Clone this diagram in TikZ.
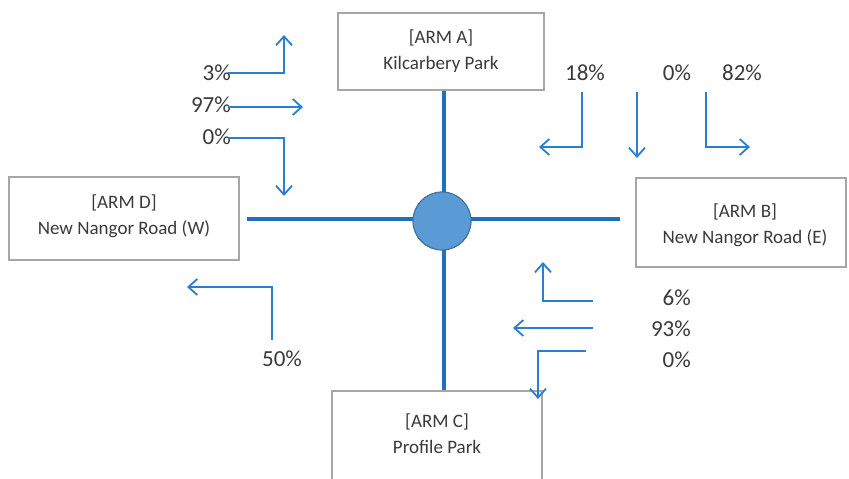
\documentclass[tikz,border=0pt]{standalone}
\usepackage{fontspec}
\setmainfont{Carlito}
\usetikzlibrary{arrows.meta}
\definecolor{roadblue}{HTML}{1F70C1}
\definecolor{flowblue}{HTML}{2A7FD4}
\definecolor{hubfill}{HTML}{5B9BD5}
\definecolor{hubedge}{HTML}{41719C}
\definecolor{boxline}{HTML}{A6A6A6}
\definecolor{labelgray}{HTML}{3A3A3A}
\tikzset{
  armbox/.style={draw=boxline, line width=1.2pt, fill=white, inner sep=0pt},
  armtext/.style={text=labelgray, align=center, font=\fontsize{19}{26}\selectfont, inner sep=0pt},
  pct/.style={text=labelgray, font=\fontsize{23}{26}\selectfont, inner sep=0pt},
  road/.style={draw=roadblue, line width=4pt},
  flow/.style={draw=flowblue, line width=1.8pt, -{Straight Barb[length=9pt,width=16pt]}},
}
\begin{document}
\begin{tikzpicture}[x=1pt,y=-1pt]
\clip (0,0) rectangle (849,479);
\fill[white] (0,0) rectangle (849,479);

% junction arms
\node[armbox, minimum width=206pt, minimum height=77pt] (A) at (441,51.5) {};
\node[armtext] (At) at (441,51) {[ARM A]\\Kilcarbery Park};
\node[armbox, minimum width=230pt, minimum height=83pt] (D) at (124,218.5) {};
\node[armtext] (Dt) at (124,216) {[ARM D]\\New Nangor Road (W)};
\node[armbox, minimum width=210pt, minimum height=89pt] (B) at (741,222.5) {};
\node[armtext] (Bt) at (745,225.5) {[ARM B]\\New Nangor Road (E)};
\node[armbox, minimum width=210pt, minimum height=110pt] (C) at (437,446) {};
\node[armtext] (Ct) at (437,433.5) {[ARM C]\\Profile Park};

% roads and central junction
\coordinate (Wend) at (247,219);
\coordinate (Eend) at (620,219);
\draw[road] (A.south -| 444,0) -- (C.north -| 444,0);
\draw[road] (Wend) -- (Eend);
\node[circle, draw=hubedge, line width=1.2pt, fill=hubfill, minimum size=58pt, inner sep=0pt] (J) at (442,221) {};

% arm D approach (top left)
\node[pct, anchor=east] (d1) at (231,73) {3\%};
\node[pct, anchor=east] (d2) at (231,105) {97\%};
\node[pct, anchor=east] (d3) at (231,137) {0\%};
\draw[flow] (228,73) -- (284,73) -- (284,35);
\draw[flow] (228,107) -- (303,107);
\draw[flow] (228,138) -- (284,138) -- (284,196);

% arm A approach (top right)
\node[pct] (a1) at (585,73) {18\%};
\node[pct] (a2) at (677,73) {0\%};
\node[pct] (a3) at (742,73) {82\%};
\draw[flow] (582,92) -- (582,147) -- (539,147);
\draw[flow] (637,92) -- (637,158);
\draw[flow] (706,92) -- (706,147) -- (750,147);

% arm B approach (bottom right)
\node[pct, anchor=east] (b1) at (691,298) {6\%};
\node[pct, anchor=east] (b2) at (691,329) {93\%};
\node[pct, anchor=east] (b3) at (691,360) {0\%};
\draw[flow] (593,301) -- (543,301) -- (543,262);
\draw[flow] (593,328) -- (513,328);
\draw[flow] (586,351) -- (538,351) -- (538,399);

% arm C approach (bottom left)
\node[pct] (c1) at (282,359) {50\%};
\draw[flow] (272,340) -- (272,287) -- (187,287);
\end{tikzpicture}
\end{document}
